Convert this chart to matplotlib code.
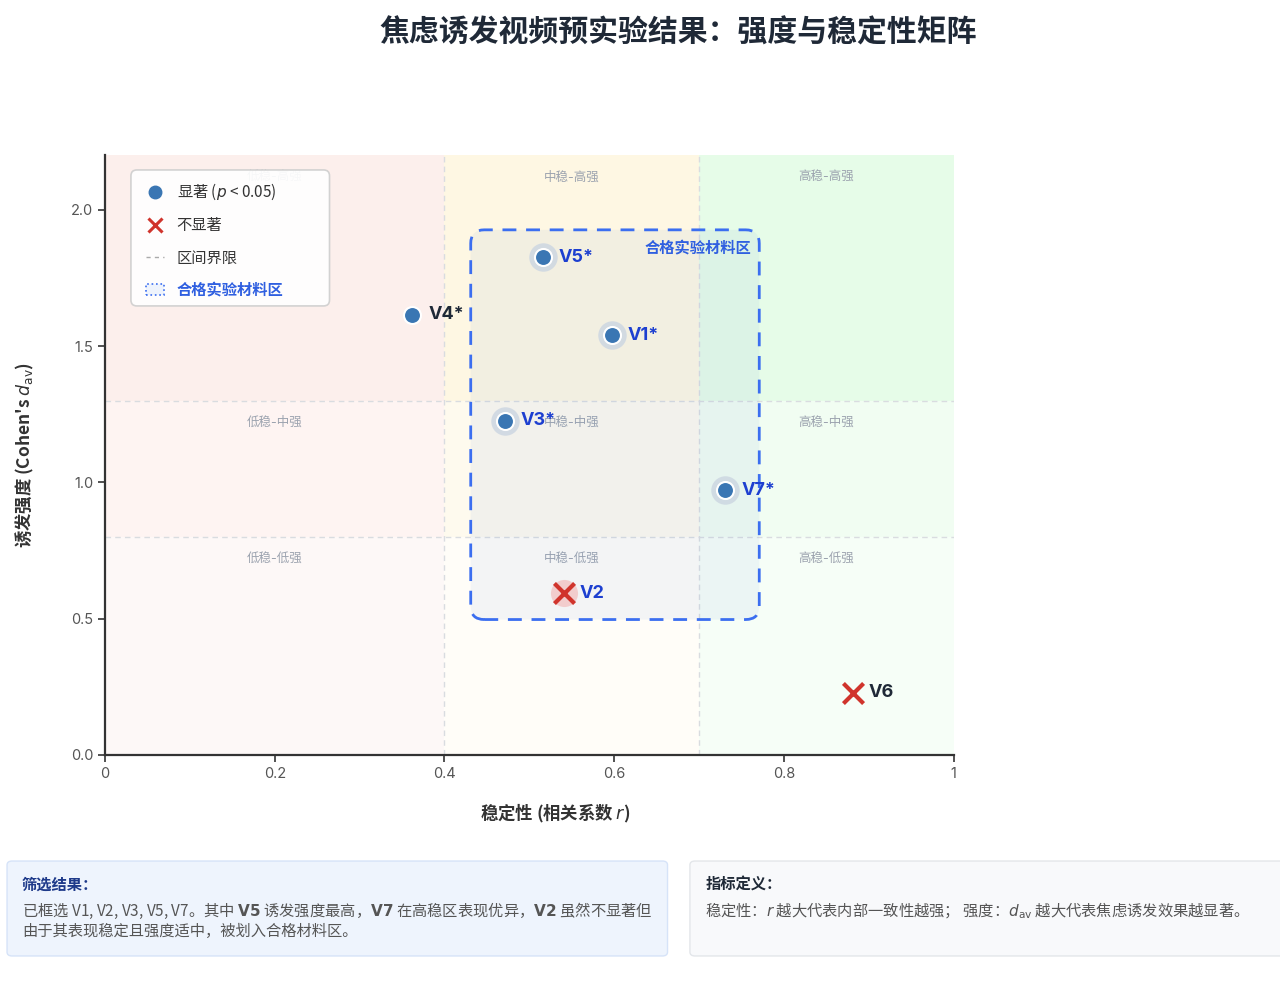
import matplotlib
matplotlib.use("Agg")
import matplotlib.pyplot as plt
from matplotlib.patches import FancyBboxPatch, Rectangle, Patch
from matplotlib.lines import Line2D

plt.rcParams['font.family'] = ['Inter', 'Noto Sans CJK SC', 'DejaVu Sans']
plt.rcParams['mathtext.fontset'] = 'dejavusans'
CJK = ['Noto Sans CJK SC', 'DejaVu Sans']  # for strings mixing CJK and mathtext

# data
names = ['V1', 'V2', 'V3', 'V4', 'V5', 'V6', 'V7']
stability = [0.597, 0.541, 0.471, 0.362, 0.516, 0.881, 0.731]
strength = [1.541, 0.594, 1.226, 1.615, 1.827, 0.228, 0.972]
significant = [True, False, True, True, True, False, True]
selected = [True, True, True, False, True, False, True]

x_bounds = [0, 0.4, 0.7, 1.0]
y_bounds = [0, 0.8, 1.3, 2.2]
col_names = ['低稳', '中稳', '高稳']
row_names = ['低强', '中强', '高强']
zone = (0.431, 0.497, 0.771, 1.927)  # x0, y0, x1, y1

# cell colours: [column][row], rows bottom -> top
cell_colors = [['#fdf8f7', '#fef4f2', '#fcefec'],
               ['#fffdf8', '#fefaee', '#fef7e3'],
               ['#f6fef7', '#f1fdf2', '#e6fce8']]

fig = plt.figure(figsize=(12.8, 9.82), dpi=100)
ax = fig.add_axes([0.082, 0.2312, 0.663, 0.6105])
ax.set_xlim(0, 1)
ax.set_ylim(0, 2.2)

# quadrant backgrounds
for i in range(3):
    for j in range(3):
        ax.add_patch(Rectangle((x_bounds[i], y_bounds[j]),
                               x_bounds[i + 1] - x_bounds[i],
                               y_bounds[j + 1] - y_bounds[j],
                               facecolor=cell_colors[i][j], edgecolor='none', zorder=0))
        ax.text((x_bounds[i] + x_bounds[i + 1]) / 2, y_bounds[j + 1] - 0.08,
                f'{col_names[i]}-{row_names[j]}', ha='center', va='center',
                fontsize=9, color='#9ca3af', zorder=1)

for xv in x_bounds[1:3]:
    ax.axvline(xv, color='#d9dce0', lw=1, ls=(0, (4, 3)), zorder=1)
for yv in y_bounds[1:3]:
    ax.axhline(yv, color='#d9dce0', lw=1, ls=(0, (4, 3)), zorder=1)

# qualified region
ax.add_patch(FancyBboxPatch((zone[0], zone[1]), zone[2] - zone[0], zone[3] - zone[1],
                            boxstyle='round,pad=0,rounding_size=0.016', mutation_aspect=3.1,
                            facecolor='#6b93d6', alpha=0.08, edgecolor='none', zorder=2))
ax.add_patch(FancyBboxPatch((zone[0], zone[1]), zone[2] - zone[0], zone[3] - zone[1],
                            boxstyle='round,pad=0,rounding_size=0.016', mutation_aspect=3.1,
                            facecolor='none', edgecolor='#3b6ef0', lw=2,
                            ls=(0, (5, 3.5)), zorder=2))
ax.text(zone[2] - 0.009, zone[3] - 0.07, '合格实验材料区', ha='right', va='center',
        fontsize=11, fontweight='bold', color='#2f5fe0', zorder=3)

# points
for n, xv, yv, sig, sel in zip(names, stability, strength, significant, selected):
    if sig:
        if sel:
            ax.scatter(xv, yv, s=420, color='#cbd5e1', alpha=0.8, zorder=3, lw=0)
        ax.scatter(xv, yv, s=150, color='#3a76b3', edgecolor='white', lw=1.5, zorder=4)
        label = n + '*'
    else:
        if sel:
            ax.scatter(xv, yv, s=380, color='#f2b8b8', alpha=0.65, zorder=3, lw=0)
        ax.scatter(xv, yv, s=210, marker='x', color='#d0342c', lw=3, zorder=4)
        label = n
    ax.annotate(label, (xv, yv), xytext=(11.5, 0), textcoords='offset points',
                ha='left', va='center', fontsize=13, fontweight='bold',
                color='#1d3fd0' if sel else '#1f2937', zorder=5)

# axes styling
for s in ['top', 'right']:
    ax.spines[s].set_visible(False)
for s in ['left', 'bottom']:
    ax.spines[s].set_color('#333333')
    ax.spines[s].set_linewidth(1.6)
ax.set_xticks([0, 0.2, 0.4, 0.6, 0.8, 1.0])
ax.set_xticklabels(['0', '0.2', '0.4', '0.6', '0.8', '1'])
ax.set_yticks([0, 0.5, 1.0, 1.5, 2.0])
ax.set_yticklabels(['0.0', '0.5', '1.0', '1.5', '2.0'])
ax.tick_params(length=5, width=1.2, color='#333333', labelsize=10.5, labelcolor='#555555')
ax.set_xlabel('稳定性 (相关系数 $r$)', fontsize=12.5, fontweight='bold',
              color='#333333', family=CJK)
ax.xaxis.set_label_coords(0.53, -0.078)
ax.set_ylabel("诱发强度 (Cohen's $d_{\\mathrm{av}}$)", fontsize=12.5, fontweight='bold',
              color='#333333', family=CJK, labelpad=25)

# legend (frame drawn separately)
ax.add_patch(FancyBboxPatch((0.0306, 0.749), 0.234, 0.2268,
                            boxstyle='round,pad=0,rounding_size=0.007', mutation_aspect=1.4,
                            transform=ax.transAxes, facecolor='white', alpha=0.92,
                            edgecolor='#cfcfcf', lw=1.2, zorder=6))
handles = [
    Line2D([], [], marker='o', ls='none', color='#3a76b3', markersize=9),
    Line2D([], [], marker='x', ls='none', color='#d0342c', markersize=10, mew=2.2),
    Line2D([], [], color='#aaaaaa', ls=(0, (3, 3)), lw=1),
    Patch(facecolor='#eef3fc', edgecolor='#3b6ef0', ls=':', lw=1.2),
]
labels = ['显著 ($p$ < 0.05)', '不显著', '区间界限', '合格实验材料区']
leg = ax.legend(handles, labels, loc='upper left', bbox_to_anchor=(0.0483, 0.956),
                borderaxespad=0, borderpad=0, frameon=False,
                prop={'family': CJK, 'size': 11},
                handlelength=1.2, handletextpad=0.8, labelspacing=1.0)
for t in leg.get_texts():
    t.set_color('#333333')
leg.get_texts()[3].set_color('#2f5fe0')
leg.get_texts()[3].set_fontweight('bold')
leg.set_zorder(7)

# title
fig.text(0.53, 0.967, '焦虑诱发视频预实验结果：强度与稳定性矩阵', ha='center', va='center',
         fontsize=21.5, fontweight='bold', color='#1f2937')

# bottom boxes
fig.add_artist(FancyBboxPatch((0.0055, 0.0265), 0.516, 0.0967,
                              boxstyle='round,pad=0,rounding_size=0.004',
                              transform=fig.transFigure, facecolor='#eef4fd',
                              edgecolor='#d6e3f8', lw=1))
fig.add_artist(FancyBboxPatch((0.539, 0.0265), 0.47, 0.0967,
                              boxstyle='round,pad=0,rounding_size=0.004',
                              transform=fig.transFigure, facecolor='#f8f9fb',
                              edgecolor='#e3e6ea', lw=1))

fig.text(0.0172, 1 - 885 / 982, '筛选结果：', fontsize=11, fontweight='bold',
         color='#1e3a8a', va='center', family=CJK)
fig.text(0.0172, 1 - 911 / 982,
         '已框选 V1, V2, V3, V5, V7。其中 $\\mathbf{V5}$ 诱发强度最高，$\\mathbf{V7}$ 在高稳区表现优异，$\\mathbf{V2}$ 虽然不显著但',
         fontsize=11, color='#555555', va='center', family=CJK)
fig.text(0.0172, 1 - 931 / 982, '由于其表现稳定且强度适中，被划入合格材料区。',
         fontsize=11, color='#555555', va='center', family=CJK)

fig.text(0.551, 1 - 885 / 982, '指标定义：', fontsize=11, fontweight='bold',
         color='#1f2937', va='center', family=CJK)
fig.text(0.551, 1 - 911 / 982,
         '稳定性：$r$ 越大代表内部一致性越强； 强度：$d_{\\mathrm{av}}$ 越大代表焦虑诱发效果越显著。',
         fontsize=11, color='#555555', va='center', family=CJK)

fig.savefig('out.png', dpi=100)
